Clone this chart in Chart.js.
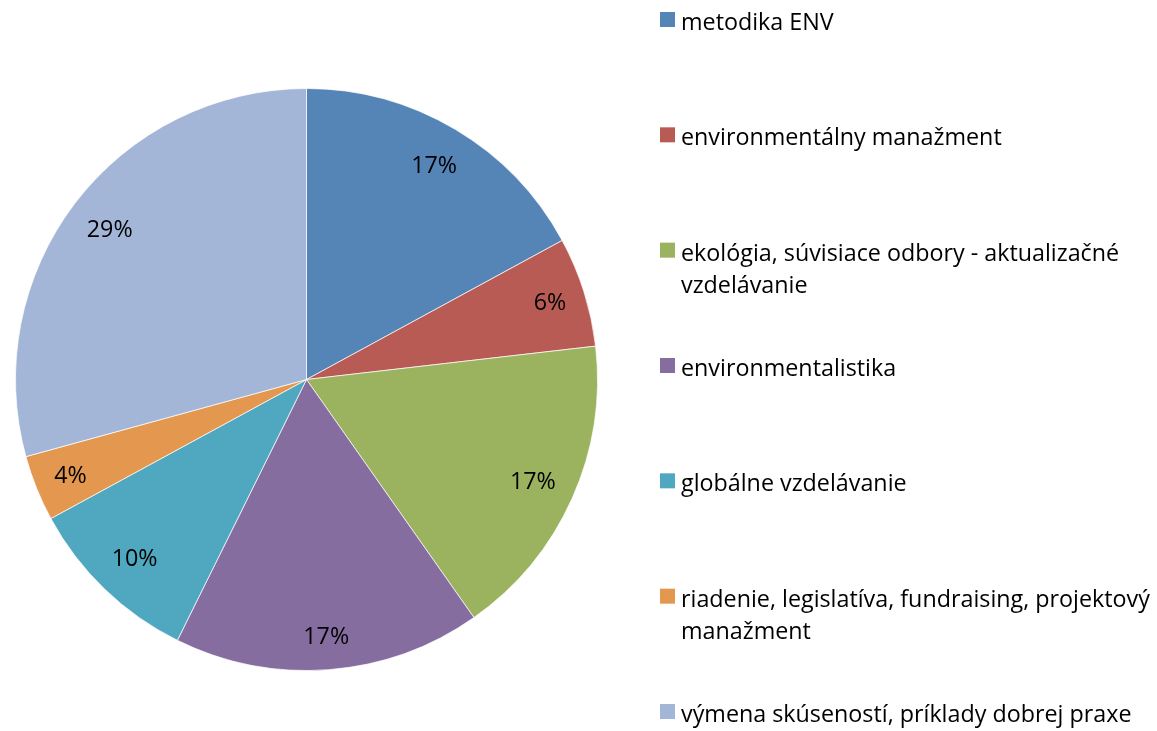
<!DOCTYPE html>
<html>
<head>
<meta charset="utf-8">
<script src="https://cdn.jsdelivr.net/npm/chart.js@4.4.1/dist/chart.umd.min.js"></script>
<style>
  html, body { margin: 0; padding: 0; background: #fff; }
</style>
</head>
<body>
<canvas id="canvas" width="1157" height="731"></canvas>
<script>
// categories (long ones already split the way the legend wraps them)
var categories = [
  ['metodika ENV'],
  ['environmentálny manažment'],
  ['ekológia, súvisiace odbory - aktualizačné', 'vzdelávanie'],
  ['environmentalistika'],
  ['globálne vzdelávanie'],
  ['riadenie, legislatíva, fundraising, projektový', 'manažment'],
  ['výmena skúseností, príklady dobrej praxe']
];
// answer counts per category (82 in total)
var counts = [14, 5, 14, 14, 8, 3, 24];
var sliceColours = ['#5584b6', '#b95b55', '#9bb25e', '#866da0', '#4fa8bf', '#e3974f', '#a3b6d8'];

var FONT = '23.3px "Open Sans", sans-serif';

// percentage labels placed inside the outer edge of each slice
var pctLabels = {
  id: 'pctLabels',
  afterDatasetsDraw(chart) {
    var ctx = chart.ctx;
    var meta = chart.getDatasetMeta(0);
    var data = chart.data.datasets[0].data;
    var total = data.reduce((a, b) => a + b, 0);
    ctx.save();
    ctx.font = FONT;
    ctx.fillStyle = '#000';
    ctx.textAlign = 'center';
    ctx.textBaseline = 'alphabetic';
    meta.data.forEach((arc, i) => {
      var p = arc.getProps(['x', 'y', 'startAngle', 'endAngle', 'outerRadius'], true);
      var mid = (p.startAngle + p.endAngle) / 2;
      var txt = Math.round(data[i] / total * 100) + '%';
      var hw = ctx.measureText(txt).width / 2;
      var c = Math.cos(mid), s = Math.sin(mid);
      var d = p.outerRadius - 15 - (hw * Math.abs(c) + 17 * Math.abs(s));
      ctx.fillText(txt, p.x + c * d, p.y + s * d + 8);
    });
    ctx.restore();
  }
};

// legend on the right, evenly spread over the full height
var sideLegend = {
  id: 'sideLegend',
  afterDraw(chart) {
    var ctx = chart.ctx;
    var ds = chart.data.datasets[0];
    var labels = chart.data.labels;
    var top = 19.5;
    var step = (chart.height - 2 * top) / (labels.length - 1);
    ctx.save();
    ctx.font = FONT;
    ctx.textAlign = 'left';
    ctx.textBaseline = 'alphabetic';
    labels.forEach((lines, i) => {
      var cy = top + i * step;
      ctx.fillStyle = ds.backgroundColor[i];
      ctx.fillRect(660, cy - 7.5, 15, 15);
      ctx.fillStyle = '#000';
      lines.forEach((ln, k) => ctx.fillText(ln, 681, cy + 10.5 + k * 32));
    });
    ctx.restore();
  }
};

var ctx = document.getElementById('canvas').getContext('2d');
new Chart(ctx, {
  type: 'pie',
  data: {
    labels: categories,
    datasets: [{
      data: counts,
      backgroundColor: sliceColours,
      borderColor: 'rgba(255,255,255,0.7)',
      borderWidth: 1
    }]
  },
  options: {
    responsive: false,
    animation: false,
    layout: { padding: { left: 15, top: 88, right: 559, bottom: 60 } },
    plugins: {
      legend: { display: false },
      tooltip: { enabled: false }
    }
  },
  plugins: [pctLabels, sideLegend]
});
</script>
</body>
</html>
